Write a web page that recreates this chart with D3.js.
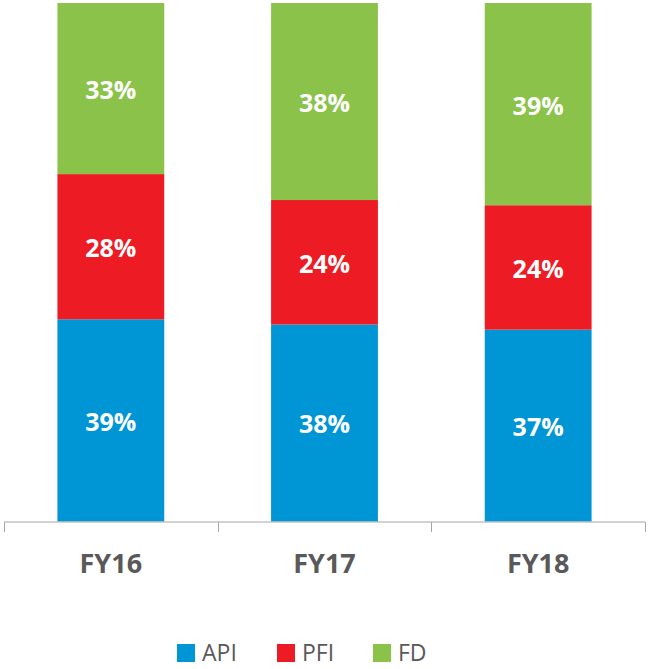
<!DOCTYPE html>
<html>
<head>
<meta charset="utf-8">
<script src="https://cdn.jsdelivr.net/npm/d3@7"></script>
<style>
  body { margin: 0; background: #fff; }
  svg { display: block; }
</style>
</head>
<body>
<svg id="chart" width="648" height="669"></svg>
<script>
const categories = ["FY16", "FY17", "FY18"];
const seriesNames = ["API", "PFI", "FD"];
const apiValues = [39, 38, 37];
const pfiValues = [28, 24, 24];
const fdValues = [33, 38, 39];
const colors = ["#0096d6", "#ed1c24", "#8bc34a"];

const rows = categories.map((c, i) => ({ cat: c, API: apiValues[i], PFI: pfiValues[i], FD: fdValues[i] }));

const svg = d3.select("#chart");
const font = "'Open Sans', sans-serif";

const x = d3.scaleBand()
  .domain(categories)
  .range([4, 645])
  .paddingInner(0.5)
  .paddingOuter(0.25);

const y = d3.scaleLinear()
  .domain([0, 100])
  .range([521.5, 3]);

const stack = d3.stack().keys(seriesNames);
const layers = stack(rows);

const layer = svg.selectAll("g.layer")
  .data(layers)
  .enter().append("g")
  .attr("class", "layer")
  .attr("fill", (d, i) => colors[i]);

layer.selectAll("rect")
  .data(d => d)
  .enter().append("rect")
  .attr("x", d => x(d.data.cat))
  .attr("y", d => y(d[1]))
  .attr("width", x.bandwidth())
  .attr("height", d => y(d[0]) - y(d[1]));

layer.selectAll("text")
  .data(d => d)
  .enter().append("text")
  .attr("x", d => x(d.data.cat) + x.bandwidth() / 2)
  .attr("y", d => (y(d[0]) + y(d[1])) / 2 + 1.5)
  .attr("dy", "0.36em")
  .attr("text-anchor", "middle")
  .attr("fill", "#fff")
  .style("font-family", font)
  .style("font-weight", "bold")
  .style("font-size", "25px")
  .text(d => (d[1] - d[0]) + "%");

// axis
const axisG = svg.append("g")
  .attr("transform", "translate(0,522)");

axisG.append("line")
  .attr("x1", 4).attr("x2", 645)
  .attr("stroke", "#a6a6a6").attr("stroke-width", 1);

const step = x.step();
const tickXs = d3.range(categories.length + 1).map(i => x.range()[0] + i * step);
axisG.selectAll("line.tick")
  .data(tickXs)
  .enter().append("line")
  .attr("class", "tick")
  .attr("x1", d => Math.round(d) + 0.5).attr("x2", d => Math.round(d) + 0.5)
  .attr("y1", 0).attr("y2", 10)
  .attr("stroke", "#a6a6a6");

axisG.selectAll("text")
  .data(categories)
  .enter().append("text")
  .attr("x", d => x(d) + x.bandwidth() / 2)
  .attr("y", 41)
  .attr("dy", "0.36em")
  .attr("text-anchor", "middle")
  .attr("fill", "#595959")
  .style("font-family", font)
  .style("font-weight", "bold")
  .style("font-size", "27px")
  .text(d => d);

// legend
const legendX = [177, 277, 373];
const legend = svg.selectAll("g.legend")
  .data(seriesNames)
  .enter().append("g")
  .attr("class", "legend")
  .attr("transform", (d, i) => `translate(${legendX[i]},644)`);

legend.append("rect")
  .attr("width", 18).attr("height", 18)
  .attr("fill", (d, i) => colors[i]);

legend.append("text")
  .attr("x", 25)
  .attr("y", 9)
  .attr("dy", "0.36em")
  .attr("fill", "#595959")
  .style("font-family", font)
  .style("font-size", "23px")
  .text(d => d);
</script>
</body>
</html>
